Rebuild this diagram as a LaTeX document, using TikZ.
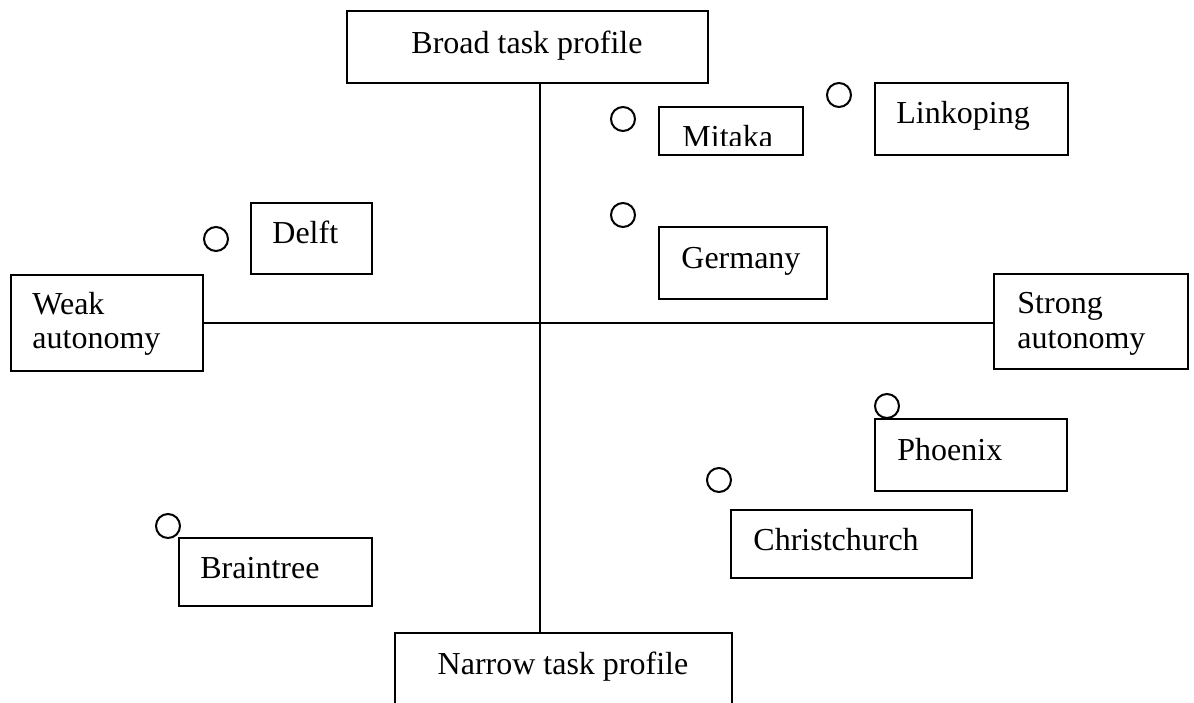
\documentclass[tikz,border=0pt]{standalone}
\usepackage{fontspec}
\setmainfont{Liberation Serif}
\usetikzlibrary{fit}
\tikzset{
  box/.style={draw, line width=1pt, inner sep=0pt, rectangle},
  lbl/.style={inner sep=0pt, anchor=base west, font=\fontsize{16}{17.5}\selectfont},
  dot/.style={draw, circle, line width=1pt, minimum size=12pt, inner sep=0pt},
  axis/.style={line width=1pt}
}
\begin{document}
\begin{tikzpicture}[x=0.5pt,y=-0.5pt]
\clip (0,0) rectangle (1194,702);
\useasboundingbox (0,0) rectangle (1194,702);
\coordinate (center) at (540,323);
% axis boxes
\node[box, fit={(347,11) (708,83)}] (broad) {};
\node[lbl, anchor=base] (tbroad) at (527,53) {Broad task profile};
\node[box, fit={(395,633) (732,720)}] (narrow) {};
\node[lbl, anchor=base] (tnarrow) at (563,674) {Narrow task profile};
\node[box, fit={(11,275) (203,371)}] (weak) {};
\node[lbl] (tweak1) at (32,314) {Weak};
\node[lbl] (tweak2) at (32,348) {autonomy};
\node[box, fit={(994,274) (1188,369)}] (strong) {};
\node[lbl] (tstrong1) at (1017,313) {Strong};
\node[lbl] (tstrong2) at (1017,348) {autonomy};
% axes
\draw[axis] (broad.south -| center) -- (narrow.north -| center);
\draw[axis] (weak.east) -- (weak.east -| strong.west);
% places
\node[dot] (cdelft) at (216,239) {};
\node[box, fit={(251,203) (372,274)}] (delft) {};
\node[lbl] (tdelft) at (272,243) {Delft};
\node[dot] (cmitaka) at (623,119) {};
\node[box, fit={(659,107) (803,155)}] (mitaka) {};
\begin{scope}
\clip (659,107) rectangle (803,145);
\node[lbl] (tmitaka) at (682,147) {Mitaka};
\end{scope}
\node[dot] (clink) at (839,95) {};
\node[box, fit={(875,83) (1068,155)}] (link) {};
\node[lbl] (tlink) at (896,123) {Linkoping};
\node[dot] (cgermany) at (623,215) {};
\node[box, fit={(659,227) (827,299)}] (germany) {};
\node[lbl] (tgermany) at (681,268) {Germany};
\node[dot] (cphoenix) at (887,406) {};
\node[box, fit={(875,419) (1067,491)}] (phoenix) {};
\node[lbl] (tphoenix) at (897,460) {Phoenix};
\node[dot] (cchrist) at (719,480) {};
\node[box, fit={(731,510) (972,578)}] (christ) {};
\node[lbl] (tchrist) at (753,550) {Christchurch};
\node[dot] (cbrain) at (168,526) {};
\node[box, fit={(179,538) (372,606)}] (brain) {};
\node[lbl] (tbrain) at (200,578) {Braintree};
\end{tikzpicture}
\end{document}
